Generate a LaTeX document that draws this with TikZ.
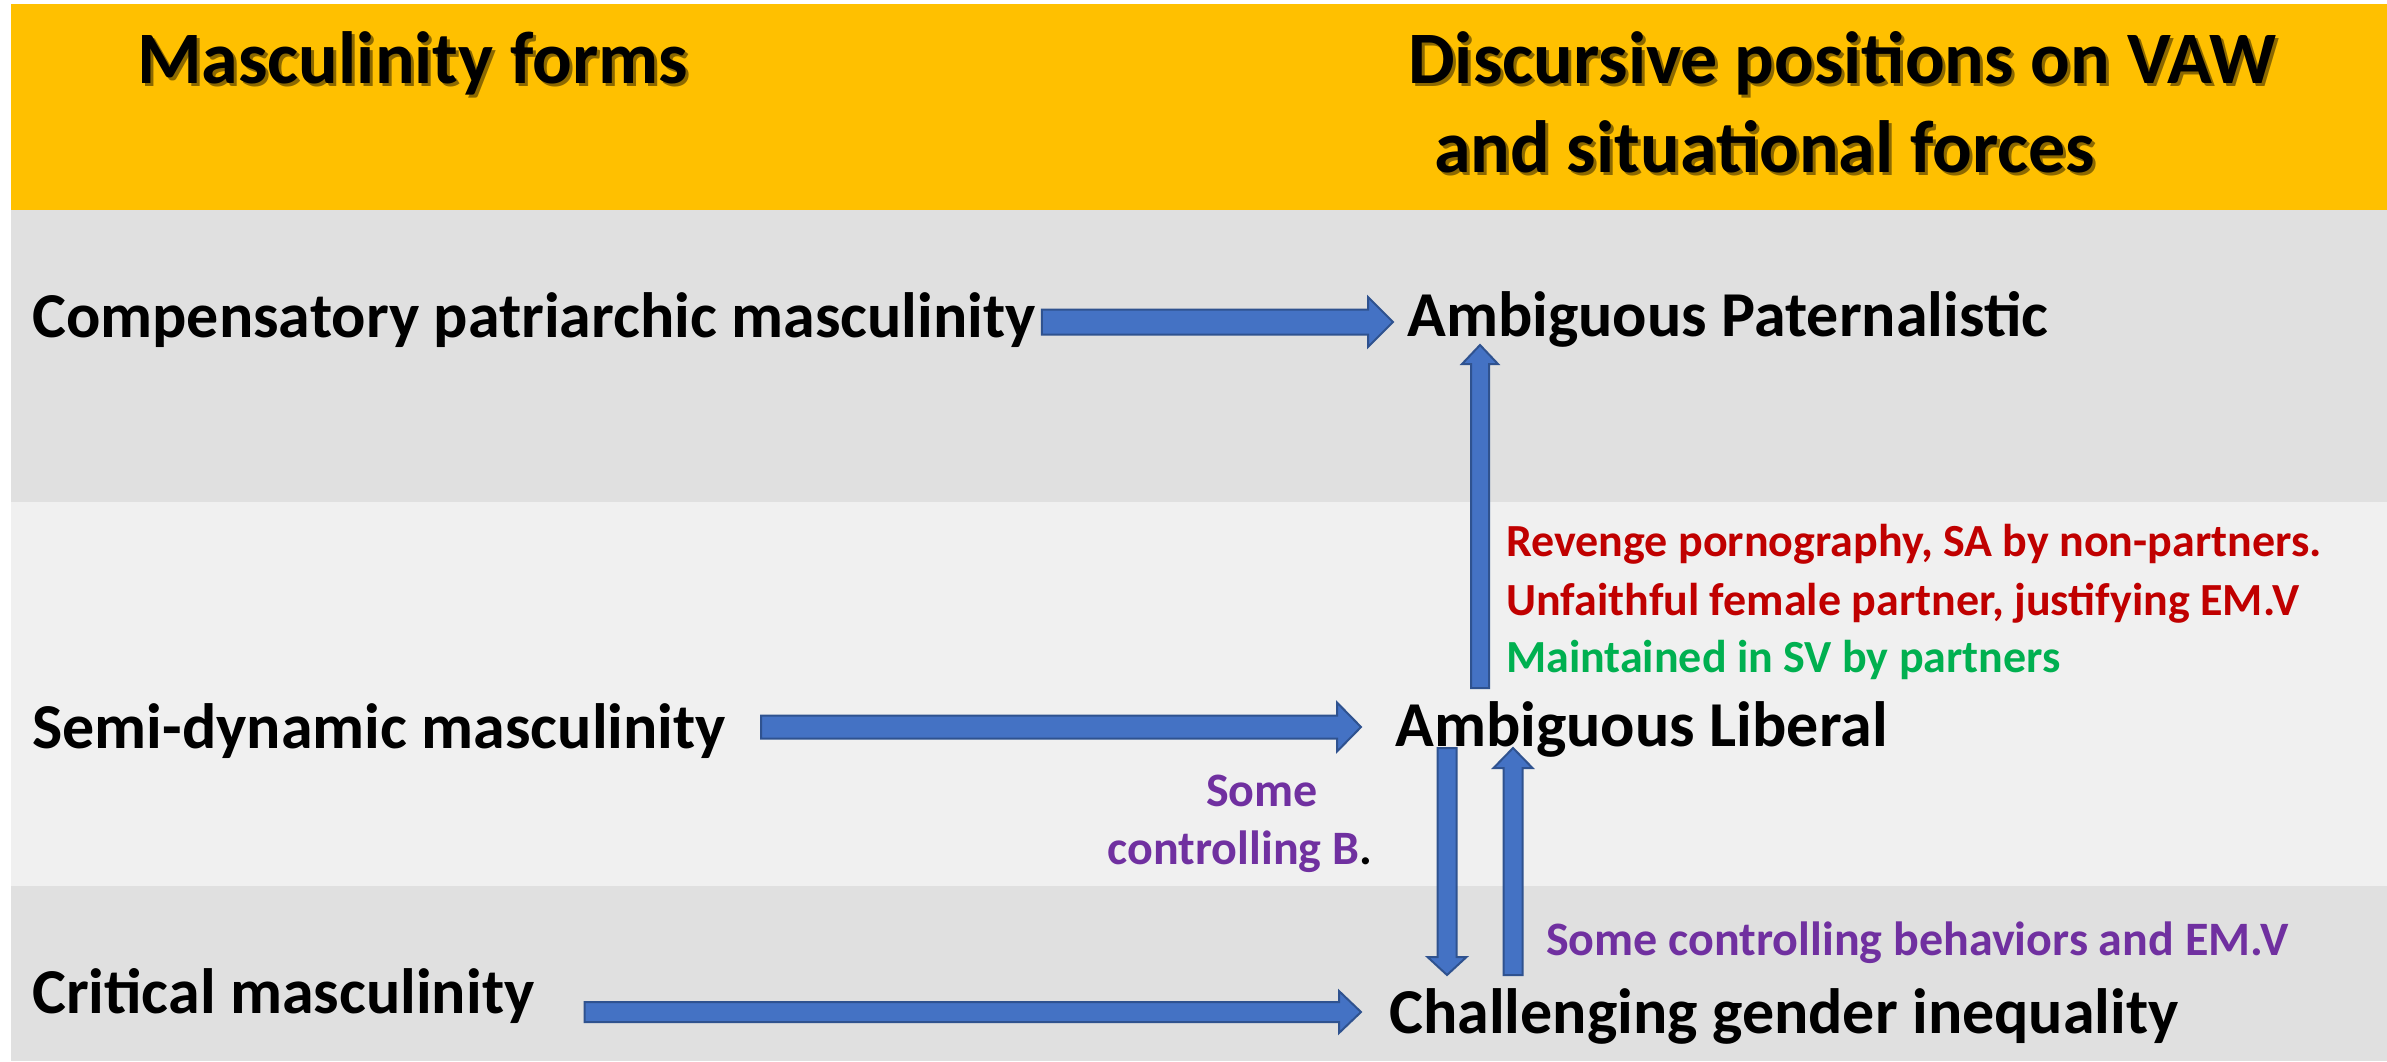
\documentclass[tikz,border=0pt]{standalone}
\usepackage{fontspec}
\setmainfont{Carlito}
\usetikzlibrary{calc}

\definecolor{hdrfill}{HTML}{FFC000}
\definecolor{bandA}{HTML}{E0E0E0}
\definecolor{bandB}{HTML}{F0F0F0}
\definecolor{arrfill}{HTML}{4472C4}
\definecolor{arrline}{HTML}{2F528F}
\definecolor{redtxt}{HTML}{C00000}
\definecolor{greentxt}{HTML}{00B050}
\definecolor{purptxt}{HTML}{7030A0}

% block arrow from #1 to tip #2; half shaft width #3, half head width #4, head length #5
\newcommand\blockarrow[5]{%
  \coordinate (ba-s) at #1;
  \coordinate (ba-e) at #2;
  \coordinate (ba-h) at ($(ba-e)!#5!(ba-s)$);
  \draw[blockarr] ($(ba-s)!#3!90:(ba-e)$) -- ($(ba-h)!#3!90:(ba-e)$)
    -- ($(ba-h)!#4!90:(ba-e)$) -- (ba-e) -- ($(ba-h)!#4!-90:(ba-e)$)
    -- ($(ba-h)!#3!-90:(ba-e)$) -- ($(ba-s)!#3!-90:(ba-e)$) -- cycle;
}

\tikzset{
  blockarr/.style={fill=arrfill, draw=arrline, line width=2pt, line join=miter},
  hdr/.style={anchor=base west, inner sep=0pt, font=\bfseries\fontsize{74}{88}\selectfont},
  hdrshadow/.style={hdr, text=black, opacity=0.45},
  mainlbl/.style={anchor=base west, inner sep=0pt, font=\bfseries\fontsize{64}{76}\selectfont},
  note/.style={inner sep=0pt, font=\bfseries\fontsize{46}{56}\selectfont},
  pnote/.style={inner sep=0pt, text=purptxt, font=\bfseries\fontsize{48}{58}\selectfont},
}

\begin{document}
\begin{tikzpicture}[x=1pt, y=-1pt]
\useasboundingbox (0,0) rectangle (2387,1061);

% background bands
\fill[hdrfill] (11,4) rectangle (2387,210);
\fill[bandA] (11,210) rectangle (2387,502);
\fill[bandB] (11,502) rectangle (2387,886);
\fill[bandA] (11,886) rectangle (2387,1061);

% column headings with drop shadow
\node[hdrshadow] (hL-sh)  at (140,86)  {Masculinity forms};
\node[hdrshadow] (hR1-sh) at (1411,86) {Discursive positions on VAW};
\node[hdrshadow] (hR2-sh) at (1437,175) {and situational forces};
\node[hdr] (hL)  at (137,83)  {Masculinity forms};
\node[hdr] (hR1) at (1408,83) {Discursive positions on VAW};
\node[hdr] (hR2) at (1434,172) {and situational forces};

% masculinity forms
\node[mainlbl] (comp) at (32,337)  {Compensatory patriarchic masculinity};
\node[mainlbl] (semi) at (32,748)  {Semi-dynamic masculinity};
\node[mainlbl] (crit) at (32,1013) {Critical masculinity};

% discursive positions
\node[mainlbl] (ambp) at (1407,336)  {Ambiguous Paternalistic};
\node[mainlbl] (ambl) at (1395,746)  {Ambiguous Liberal};
\node[mainlbl] (chal) at (1389,1033) {Challenging gender inequality};

% situational forces
\node[note, anchor=base west, text=redtxt]   (f1) at (1506,556) {Revenge pornography, SA by non-partners.};
\node[note, anchor=base west, text=redtxt]   (f2) at (1506,615) {Unfaithful female partner, justifying EM.V};
\node[note, anchor=base west, text=greentxt] (f3) at (1506,672) {Maintained in SV by partners};
\node[pnote, anchor=base] (c1) at (1262,806) {Some};
\node[pnote, anchor=base] (c2) at (1240,864) {controlling B\textcolor{black}{.}};
\node[pnote, anchor=base west] (c3) at (1546,955) {Some controlling behaviors and EM.V};

% connectors
\blockarrow{($(comp.base east)+(6,-15)$)}{($(ambp.base west)+(-14,-14)$)}{12.5pt}{25pt}{25pt}
\blockarrow{($(semi.base east)+(35,-21)$)}{($(ambl.base west)+(-34,-19)$)}{11.5pt}{24.5pt}{24pt}
\blockarrow{($(crit.base east)+(50,-1)$)}{($(chal.base west)+(-28,-21)$)}{10pt}{21pt}{22pt}
\blockarrow{($(ambl.base west)+(85,-58)$)}{($(ambp.base west)+(73,9)$)}{9pt}{18pt}{19pt}
\blockarrow{($(ambl.base west)+(52,2)$)}{($(chal.base west)+(58,-58)$)}{9.5pt}{19.5pt}{18pt}
\blockarrow{($(chal.base west)+(124,-58)$)}{($(ambl.base west)+(118,2)$)}{9.5pt}{19.5pt}{20pt}
\end{tikzpicture}
\end{document}
